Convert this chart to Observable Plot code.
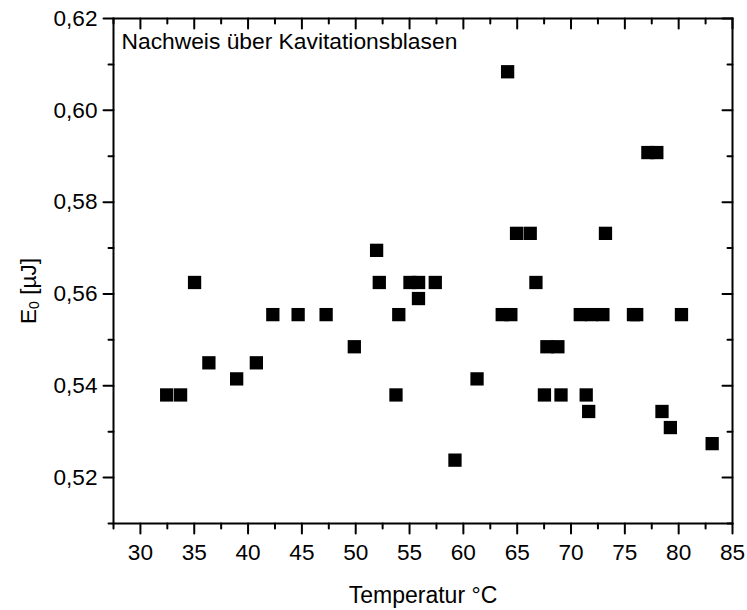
<!DOCTYPE html>
<html>
<head>
<meta charset="utf-8">
<script src="https://cdn.jsdelivr.net/npm/d3@7"></script>
<script src="https://cdn.jsdelivr.net/npm/@observablehq/plot@0.6"></script>
<style>
  html, body { margin: 0; padding: 0; background: #fff; }
</style>
</head>
<body>
<div id="chart"></div>
<script>
// Measured threshold energy E0 (µJ) against water temperature (°C)
const temperature = [
  32.44, 33.73, 35.03, 36.36, 38.94, 40.77, 42.3, 44.65, 47.25, 49.87,
  51.94, 52.19, 53.74, 54.0, 55.04, 55.84, 55.83, 57.39, 59.22, 61.27,
  63.61, 64.41, 64.11, 64.94, 66.21, 66.74, 67.76, 68.78, 67.53, 69.07,
  70.86, 71.9, 72.96, 71.41, 71.64, 73.2, 75.8, 76.1, 77.14, 77.97,
  78.45, 79.23, 80.26, 83.11
];
const energy = [
  0.538, 0.538, 0.5625, 0.545, 0.5415, 0.545, 0.5555, 0.5555, 0.5555, 0.5485,
  0.5695, 0.5625, 0.538, 0.5555, 0.5625, 0.5625, 0.559, 0.5625, 0.5238, 0.5415,
  0.5555, 0.5555, 0.6084, 0.5732, 0.5732, 0.5625, 0.5485, 0.5485, 0.538, 0.538,
  0.5555, 0.5555, 0.5555, 0.538, 0.5344, 0.5732, 0.5555, 0.5555, 0.5908, 0.5908,
  0.5344, 0.5309, 0.5555, 0.5274
];

// Axis ticks
const xMajor = [30, 35, 40, 45, 50, 55, 60, 65, 70, 75, 80, 85];
const xMinor = [27.5, 32.5, 37.5, 42.5, 47.5, 52.5, 57.5, 62.5, 67.5, 72.5, 77.5, 82.5];
const yMajor = [0.52, 0.54, 0.56, 0.58, 0.60, 0.62];
const yMinor = [0.51, 0.53, 0.55, 0.57, 0.59, 0.61];

const xDomain = [27.5, 85];
const yDomain = [0.51, 0.62];

const points = temperature.map((t, i) => ({t, e: energy[i]}));
const fmt = d => d.toFixed(2).replace(".", ",");
const fs = 22.6;

// straight tick line drawn by a vector mark
const tickLine = {draw(context, l) { context.moveTo(0, 0); context.lineTo(0, -l); }};
const tickOpts = {shape: tickLine, anchor: "start", stroke: "black", strokeWidth: 2};

const chart = Plot.plot({
  width: 747,
  height: 610,
  marginLeft: 113,
  marginRight: 15,
  marginTop: 18,
  marginBottom: 87,
  style: {fontFamily: "'Liberation Sans', Arial, sans-serif", fontSize: fs + "px", background: "#fff", color: "black"},
  x: {domain: xDomain},
  y: {domain: yDomain},
  marks: [
    // bottom axis: outward ticks
    Plot.vector(xMajor, {...tickOpts, x: d => d, y: () => yDomain[0], length: 10, rotate: 180}),
    Plot.vector(xMinor, {...tickOpts, x: d => d, y: () => yDomain[0], length: 5, rotate: 180}),
    // top axis: inward ticks
    Plot.vector(xMajor, {...tickOpts, x: d => d, y: () => yDomain[1], length: 10, rotate: 180}),
    Plot.vector(xMinor, {...tickOpts, x: d => d, y: () => yDomain[1], length: 5, rotate: 180}),
    // left axis: outward ticks
    Plot.vector(yMajor, {...tickOpts, y: d => d, x: () => xDomain[0], length: 10, rotate: -90}),
    Plot.vector(yMinor, {...tickOpts, y: d => d, x: () => xDomain[0], length: 5, rotate: -90}),
    // right axis: inward ticks
    Plot.vector(yMajor, {...tickOpts, y: d => d, x: () => xDomain[1], length: 10, rotate: -90}),
    Plot.vector(yMinor, {...tickOpts, y: d => d, x: () => xDomain[1], length: 5, rotate: -90}),
    Plot.axisX(xMajor, {tickSize: 0, tickPadding: 20, fontSize: fs, label: null}),
    Plot.axisY(yMajor, {tickSize: 0, tickPadding: 16, fontSize: fs, tickFormat: fmt, label: null}),
    Plot.frame({stroke: "black", strokeWidth: 2}),
    Plot.dot(points, {x: "t", y: "e", symbol: "square", r: 7.5, fill: "black", stroke: null}),
    Plot.text(["Nachweis über Kavitationsblasen"], {
      frameAnchor: "top-left", text: d => d, dx: 8, dy: 14, lineAnchor: "top",
      textAnchor: "start", fontSize: 22.8, fill: "black"
    }),
    Plot.text(["Temperatur °C"], {
      frameAnchor: "bottom", text: d => d, dy: 63, lineAnchor: "top",
      fontSize: 23, fill: "black"
    })
  ]
});

document.getElementById("chart").appendChild(chart);

// y axis title with subscript
const ylab = d3.select(chart).append("text")
  .attr("transform", "translate(36,291) rotate(-90)")
  .attr("text-anchor", "middle")
  .attr("font-size", fs)
  .attr("fill", "black");
ylab.append("tspan").text("E");
ylab.append("tspan").attr("font-size", 14).attr("dy", 3).text("0");
ylab.append("tspan").attr("dy", -3).text(" [µJ]");
</script>
</body>
</html>
